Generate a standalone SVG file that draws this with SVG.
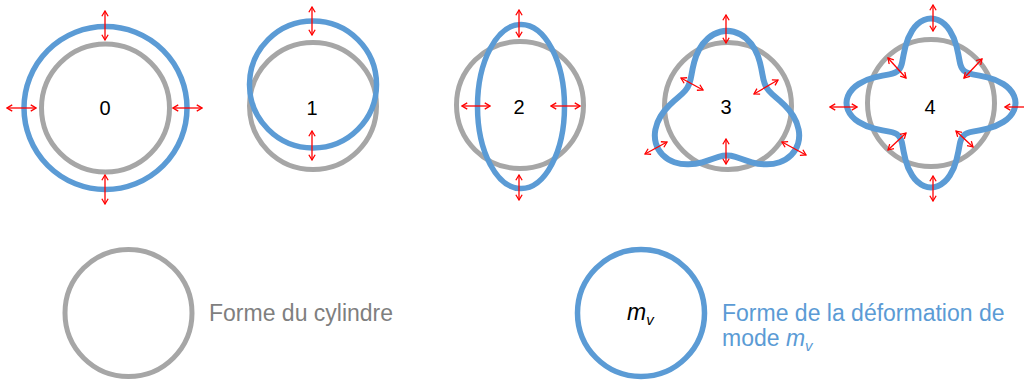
<svg xmlns="http://www.w3.org/2000/svg" width="1024" height="381" viewBox="0 0 1024 381">
<style>
.cyl{fill:none;stroke:#a6a6a6;stroke-width:5}
.def{fill:none;stroke:#5b9bd5;stroke-width:5.5}
.wob{fill:none;stroke:#5b9bd5;stroke-width:6;stroke-linejoin:round}
.lbl{font-family:"Liberation Sans",Arial,sans-serif;font-size:20px;fill:#000;text-anchor:middle}
.arr{stroke:#ff0000;stroke-width:1.3;fill:none;marker-start:url(#ah);marker-end:url(#ah)}
.leg{font-family:"Liberation Sans",Arial,sans-serif;font-size:23px}
</style>
<defs>
<marker id="ah" viewBox="0 0 10 10" refX="9" refY="5" markerWidth="7.5" markerHeight="7.5" markerUnits="userSpaceOnUse" orient="auto-start-reverse">
<path d="M2,0.8 L9,5 L2,9.2" fill="none" stroke="#ff0000" stroke-width="1.7"/>
</marker>
</defs>
<rect width="1024" height="381" fill="#ffffff"/>
<g id="mode0">
<circle class="cyl" cx="105.5" cy="108" r="64"/>
<circle class="def" cx="105.5" cy="108" r="81.5"/>
<text class="lbl" x="105" y="115">0</text>
</g>
<g id="mode1">
<circle class="cyl" cx="313" cy="106" r="63.5"/>
<circle class="def" cx="313" cy="84.5" r="63.5"/>
<text class="lbl" x="312" y="115">1</text>
</g>
<g id="mode2">
<circle class="cyl" cx="520" cy="105" r="63.5"/>
<ellipse class="def" cx="521" cy="106.5" rx="43.5" ry="82"/>
<text class="lbl" x="519" y="114">2</text>
</g>
<g id="mode3">
<circle class="cyl" cx="728" cy="106" r="63.5"/>
<path class="wob" d="M720.25,31.75 Q727,30 733.75,31.75 Q740.5,33.5 745.95,38.25 Q751.4,43 754.85,49.45 Q758.3,55.9 759.9,62.35 Q761.5,68.8 762.4,74.2 Q763.3,79.6 764.65,83.55 Q766,87.5 768.75,90.65 Q771.5,93.8 775.7,97.25 Q779.9,100.7 784.7,105.35 Q789.5,110 793.35,116.2 Q797.2,122.4 798.6,129.5 Q800,136.6 798.15,143.3 Q796.3,150 791.4,154.95 Q786.5,159.9 779.65,162.25 Q772.8,164.6 765.55,164.35 Q758.3,164.1 751.85,162.3 Q745.4,160.5 740.3,158.55 Q735.2,156.6 731.1,155.8 Q727,155 722.9,155.8 Q718.8,156.6 713.7,158.55 Q708.6,160.5 702.2,162.3 Q695.8,164.1 688.5,164.35 Q681.2,164.6 674.35,162.25 Q667.5,159.9 662.6,154.95 Q657.7,150 655.85,143.3 Q654,136.6 655.4,129.5 Q656.8,122.4 660.65,116.2 Q664.5,110 669.3,105.35 Q674.1,100.7 678.3,97.25 Q682.5,93.8 685.25,90.65 Q688,87.5 689.35,83.55 Q690.7,79.6 691.6,74.2 Q692.5,68.8 694.15,62.35 Q695.8,55.9 699.2,49.45 Q702.6,43 708.05,38.25 Q713.5,33.5 720.25,31.75 Z"/>
<text class="lbl" x="726" y="114">3</text>
</g>
<g id="mode4">
<circle class="cyl" cx="931" cy="103" r="63.5"/>
<path class="wob" transform="translate(931,103)" d="M-7.05,-83 Q0,-86 7.05,-83 Q14.1,-80 18.85,-72.45 Q23.6,-64.9 25.6,-56.4 Q27.6,-47.9 28.65,-41.65 Q29.7,-35.4 32.55,-32.55 Q35.4,-29.7 41.65,-28.65 Q47.9,-27.6 56.4,-25.6 Q64.9,-23.6 72.45,-18.85 Q80,-14.1 83,-7.05 Q86,0 83,7.05 Q80,14.1 72.45,18.85 Q64.9,23.6 56.4,25.6 Q47.9,27.6 41.65,28.65 Q35.4,29.7 32.55,32.55 Q29.7,35.4 28.65,41.65 Q27.6,47.9 25.6,56.4 Q23.6,64.9 18.85,72.45 Q14.1,80 7.05,83 Q0,86 -7.05,83 Q-14.1,80 -18.85,72.45 Q-23.6,64.9 -25.6,56.4 Q-27.6,47.9 -28.65,41.65 Q-29.7,35.4 -32.55,32.55 Q-35.4,29.7 -41.65,28.65 Q-47.9,27.6 -56.4,25.6 Q-64.9,23.6 -72.45,18.85 Q-80,14.1 -83,7.05 Q-86,0 -83,-7.05 Q-80,-14.1 -72.45,-18.85 Q-64.9,-23.6 -56.4,-25.6 Q-47.9,-27.6 -41.65,-28.65 Q-35.4,-29.7 -32.55,-32.55 Q-29.7,-35.4 -28.65,-41.65 Q-27.6,-47.9 -25.6,-56.4 Q-23.6,-64.9 -18.85,-72.45 Q-14.1,-80 -7.05,-83 Z"/>
<text class="lbl" x="930" y="114">4</text>
</g>
<g id="connectors">
<line class="arr" x1="105" y1="11" x2="105" y2="40"/>
<line class="arr" x1="105" y1="175" x2="105" y2="204"/>
<line class="arr" x1="7" y1="108" x2="36" y2="108"/>
<line class="arr" x1="173" y1="108" x2="202" y2="108"/>
<line class="arr" x1="312" y1="7" x2="312" y2="35"/>
<line class="arr" x1="312" y1="131" x2="312" y2="160"/>
<line class="arr" x1="519" y1="10" x2="519" y2="37"/>
<line class="arr" x1="519" y1="175" x2="519" y2="200"/>
<line class="arr" x1="462" y1="106" x2="490" y2="106"/>
<line class="arr" x1="551" y1="106" x2="580" y2="106"/>
<line class="arr" x1="726" y1="15" x2="726" y2="43"/>
<line class="arr" x1="726" y1="139" x2="726" y2="164"/>
<line class="arr" x1="645" y1="154" x2="667" y2="142"/>
<line class="arr" x1="782" y1="142" x2="806" y2="155"/>
<line class="arr" x1="681" y1="78" x2="703" y2="90"/>
<line class="arr" x1="754" y1="94" x2="778" y2="80"/>
<line class="arr" x1="933" y1="5" x2="933" y2="31"/>
<line class="arr" x1="933" y1="176" x2="933" y2="201"/>
<line class="arr" x1="830" y1="107" x2="857" y2="107"/>
<line class="arr" x1="1005" y1="107" x2="1032" y2="107"/>
<line class="arr" x1="888" y1="58" x2="906" y2="78"/>
<line class="arr" x1="982" y1="59" x2="964" y2="78"/>
<line class="arr" x1="888" y1="150" x2="906" y2="133"/>
<line class="arr" x1="956" y1="131" x2="973" y2="147"/>
</g>
<g id="legend-cylinder">
<circle class="cyl" cx="128.5" cy="313" r="63.5"/>
<text class="leg" x="209" y="321" fill="#7f7f7f">Forme du cylindre</text>
</g>
<g id="legend-mode">
<circle class="def" cx="641" cy="313" r="63.5"/>
<text class="leg" x="627" y="320" font-size="22" fill="#000" font-style="italic">m<tspan font-size="15" dy="5">v</tspan></text>
<text class="leg" x="722" y="321" fill="#5b9bd5">Forme de la déformation de</text>
<text class="leg" x="722" y="346" fill="#5b9bd5">mode <tspan font-style="italic">m</tspan><tspan font-style="italic" font-size="15" dy="5">v</tspan></text>
</g>
</svg>
